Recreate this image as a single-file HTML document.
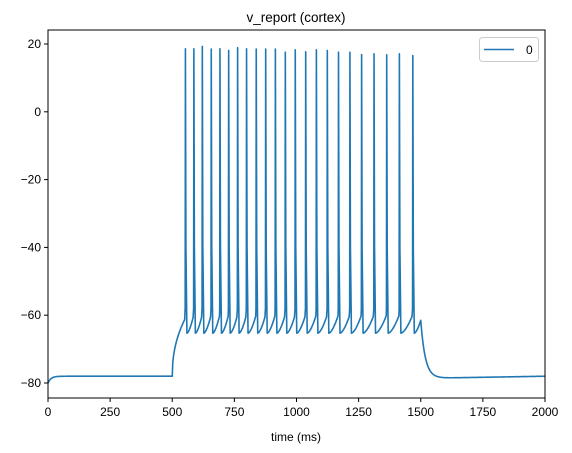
<!DOCTYPE html>
<html><head><meta charset="utf-8"><style>
body{margin:0;background:#fff}
svg{display:block;font-family:"Liberation Sans","DejaVu Sans",sans-serif}
</style></head><body>
<svg id="chart" width="572" height="453">
<text x="296" y="22" font-size="13.5" text-anchor="middle">v_report (cortex)</text>
<g id="ticks"></g>
<path id="trace" fill="none" stroke="#1f77b4" stroke-width="1.6" stroke-linejoin="round"></path>
<rect x="48" y="30" width="497" height="368" fill="none" stroke="#000" stroke-width="1"></rect>
<text x="296" y="441" font-size="12" text-anchor="middle">time (ms)</text>
<g>
<rect x="479.5" y="37.5" width="59" height="24" rx="3" fill="#fff" stroke="#ccc"></rect>
<line x1="484" y1="49.5" x2="514" y2="49.5" stroke="#1f77b4" stroke-width="1.6"></line>
<text x="526" y="54" font-size="12">0</text>
</g>
</svg>
<script>
const xTicks=[0,250,500,750,1000,1250,1500,1750,2000];
const yTicks=[-80,-60,-40,-20,0,20];
const spikeTimes=[552,586,620,656,691,726,762,798,837,875,914,954,994,1036,1079,1123,1168,1214,1261,1311,1362,1413,1467];
const spikePeaks=[18.6,18.6,19.3,18.5,18.6,18.1,18.9,18.6,18.5,18.5,18.5,17.6,18.3,17.7,18.3,18.1,17.6,17.6,16.9,17.1,16.8,17.1,16.6];
const restV=-78, troughV=-65.3, threshV=-60;
const X=t=>48+(t)*497/2000;
const Y=v=>383-(v+80)*3.39;
const NS="http://www.w3.org/2000/svg";
const g=document.getElementById('ticks');
function mk(tag,attrs){const e=document.createElementNS(NS,tag);for(const k in attrs)e.setAttribute(k,attrs[k]);g.appendChild(e);return e;}
xTicks.forEach(t=>{
 const l=mk('line',{x1:X(t),x2:X(t),y1:398,y2:402,stroke:'#000'});
 
 
 const tx=mk('text',{x:X(t),y:416,'font-size':12,'text-anchor':'middle'});tx.textContent=t;
 
 
});
yTicks.forEach(v=>{
 const l=mk('line',{x1:44,x2:48,y1:Y(v),y2:Y(v),stroke:'#000'});
 
 
 const tx=mk('text',{x:41,y:Y(v)+4,'font-size':12,'text-anchor':'end'});tx.textContent=(v<0?'\u2212'+(-v):v);
 
 
});
const pts=[];
function P(t,v){pts.push(X(t).toFixed(2)+','+Y(v).toFixed(2));}
// rest start
for(let t=0;t<=500;t+=4)P(t,restV-2*Math.exp(-t/12));
// depolarize to first spike
const t0=spikeTimes[0];
for(let t=500;t<t0;t+=2){const f=(t-500)/(t0-500);P(t,restV+(threshV-1-restV)*Math.pow(f,0.45));}
spikeTimes.forEach((ts,i)=>{
 P(ts,-58);P(ts+1,spikePeaks[i]);P(ts+3,-40);P(ts+7,troughV);
 const next=i<spikeTimes.length-1?spikeTimes[i+1]:1500;
 const end=i<spikeTimes.length-1?threshV:-61.5;
 for(let t=ts+8;t<next;t+=2){const f=(t-ts-7)/(next-ts-7);P(t,troughV+(end-troughV)*Math.pow(f,1.6));}
});
P(1500,-61.5);
for(let t=1502;t<=2000;t+=3){const v=-78.5+(-61.5+78.5)*Math.exp(-(t-1500)/18)+0.5*(t-1600>0?(t-1600)/400:0);P(t,v);}
document.getElementById('trace').setAttribute('d','M'+pts.join('L'));
</script>
</body></html>
